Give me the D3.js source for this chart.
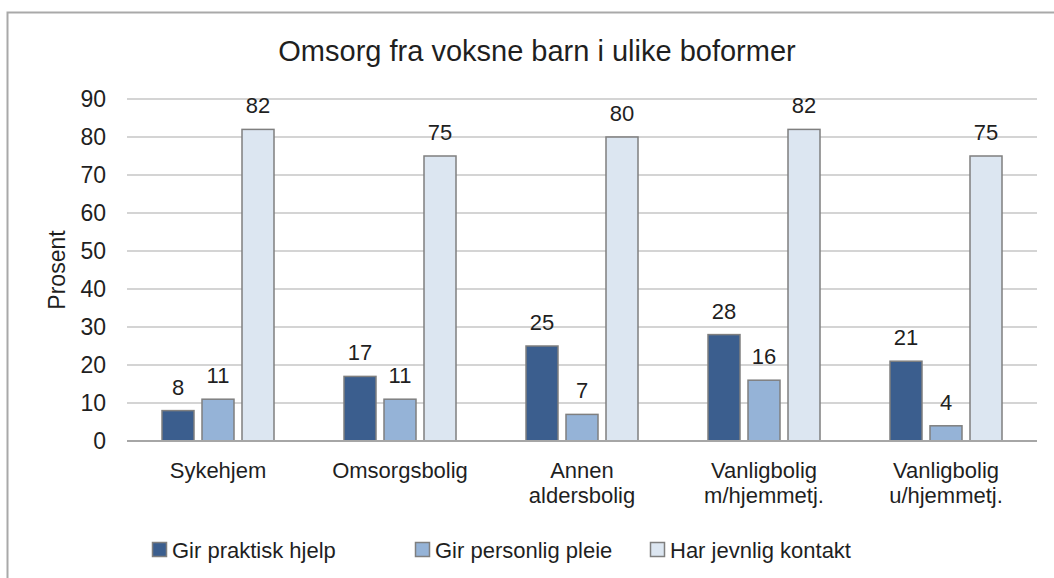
<!DOCTYPE html>
<html>
<head>
<meta charset="utf-8">
<script src="https://cdn.jsdelivr.net/npm/d3@7"></script>
<style>
  body { margin: 0; background: #fff; }
  text { font-family: "Liberation Sans", Arial, sans-serif; fill: #1f1f1f; }
</style>
</head>
<body>
<div id="chart"></div>
<script>
var categories = [["Sykehjem"], ["Omsorgsbolig"], ["Annen", "aldersbolig"], ["Vanligbolig", "m/hjemmetj."], ["Vanligbolig", "u/hjemmetj."]]
var seriesNames = ["Gir praktisk hjelp", "Gir personlig pleie", "Har jevnlig kontakt"]
var praktisk = [8, 17, 25, 28, 21]
var pleie = [11, 11, 7, 16, 4]
var kontakt = [82, 75, 80, 82, 75]
var yTicks = [0, 10, 20, 30, 40, 50, 60, 70, 80, 90]

var series = [praktisk, pleie, kontakt]
var colors = ["#3b5e8e", "#95b3d7", "#dce6f1"]

var W = 1054, H = 578
var margin = { top: 99, right: 17, bottom: 137, left: 127 }
var width = W - margin.left - margin.right
var height = H - margin.top - margin.bottom

var svg = d3.select("#chart").append("svg")
  .attr("width", W)
  .attr("height", H)

// outer frame (runs off the right and bottom edges)
svg.append("rect")
  .attr("x", 7.5).attr("y", 12.5)
  .attr("width", 1100).attr("height", 600)
  .attr("fill", "none").attr("stroke", "#a9a9a9").attr("stroke-width", 2)

var g = svg.append("g")
  .attr("transform", "translate(" + margin.left + "," + margin.top + ")")

var x0 = d3.scaleBand()
  .domain(d3.range(categories.length))
  .range([0, width])

var x1 = d3.scaleBand()
  .domain(d3.range(series.length))
  .range([-56, 56])
  .paddingInner(0.2)

var y = d3.scaleLinear()
  .domain([0, 90])
  .range([height, 0])

// gridlines
g.selectAll(".grid")
  .data(yTicks.slice(1))
  .enter().append("line")
  .attr("x1", 0).attr("x2", width)
  .attr("y1", d => y(d)).attr("y2", d => y(d))
  .attr("stroke", "#c6c6c6").attr("stroke-width", 1.5)

// y tick labels
g.selectAll(".ytick")
  .data(yTicks)
  .enter().append("text")
  .attr("x", -21)
  .attr("y", d => y(d) + 8)
  .attr("text-anchor", "end")
  .style("font-size", "23px")
  .text(d => d)

// bars
var groups = g.selectAll(".cat")
  .data(categories)
  .enter().append("g")
  .attr("transform", (d, i) => "translate(" + (x0(i) + x0.bandwidth() / 2) + ",0)")

groups.each(function (c, ci) {
  var gg = d3.select(this)
  series.forEach(function (s, si) {
    gg.append("rect")
      .attr("x", x1(si))
      .attr("y", y(s[ci]))
      .attr("width", x1.bandwidth())
      .attr("height", height - y(s[ci]))
      .attr("fill", colors[si])
      .attr("stroke", "#7f7f7f")
      .attr("stroke-width", 1.5)
    gg.append("text")
      .attr("x", x1(si) + x1.bandwidth() / 2)
      .attr("y", y(s[ci]) - 16)
      .attr("text-anchor", "middle")
      .style("font-size", "22px")
      .text(s[ci])
  })
})

// baseline
g.append("line")
  .attr("x1", 0).attr("x2", width)
  .attr("y1", height).attr("y2", height)
  .attr("stroke", "#a6a6a6").attr("stroke-width", 2)

// category labels
groups.append("text")
  .attr("text-anchor", "middle")
  .style("font-size", "22px")
  .selectAll("tspan")
  .data(d => d)
  .enter().append("tspan")
  .attr("x", 0)
  .attr("y", (d, i) => height + 37 + i * 25)
  .text(d => d)

// title
svg.append("text")
  .attr("x", 537).attr("y", 61)
  .attr("text-anchor", "middle")
  .style("font-size", "29px")
  .text("Omsorg fra voksne barn i ulike boformer")

// y axis title
svg.append("text")
  .attr("transform", "translate(65," + (margin.top + height / 2) + ") rotate(-90)")
  .attr("text-anchor", "middle")
  .style("font-size", "23px")
  .text("Prosent")

// legend
var legendX = [152, 415, 650]
var legend = svg.selectAll(".legend")
  .data(seriesNames)
  .enter().append("g")
  .attr("transform", (d, i) => "translate(" + legendX[i] + ",542)")

legend.append("rect")
  .attr("x", 0.5).attr("y", 0.5)
  .attr("width", 14).attr("height", 14)
  .attr("fill", (d, i) => colors[i])
  .attr("stroke", "#7f7f7f").attr("stroke-width", 1.5)

legend.append("text")
  .attr("x", 20).attr("y", 16)
  .style("font-size", "22px")
  .text(d => d)
</script>
</body>
</html>
